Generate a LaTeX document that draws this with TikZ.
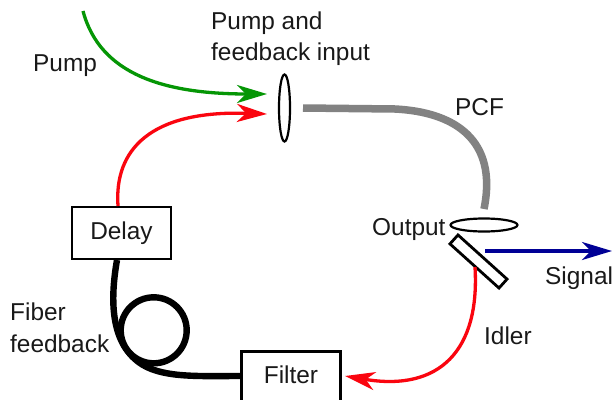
\documentclass[tikz,border=0pt]{standalone}
\usepackage{fontspec}
\setmainfont{Liberation Sans}
\usetikzlibrary{arrows.meta,shapes.geometric}
\definecolor{pumpgreen}{RGB}{5,150,5}
\definecolor{fbred}{RGB}{250,5,15}
\definecolor{sigblue}{RGB}{0,0,150}
\definecolor{fibgray}{RGB}{130,130,130}
\tikzset{
  lbl/.style={inner sep=0pt,font=\fontsize{24.4}{33}\selectfont,text=black!90},
  blockbox/.style={draw=black,line width=2.8pt,fill=white,minimum width=99pt,inner sep=0pt,font=\fontsize{24.4}{30}\selectfont,text=black!90},
  lens/.style={draw=black,line width=2.2pt,ellipse,fill=white,inner sep=0pt},
  beam/.style={line width=3.3pt,-{Stealth[length=30pt,width=18pt,inset=9pt]}},
  greyfib/.style={draw=fibgray,line width=7.5pt},
  blackfib/.style={draw=black,line width=6.4pt},
}
\begin{document}
\begin{tikzpicture}[x=1pt,y=-1pt]
\useasboundingbox (0,0) rectangle (612,399);
\clip (0,0) rectangle (612,399);
\fill[white] (0,0) rectangle (612,399);
% components
\node[blockbox,minimum height=52pt] (delay) at (121.5,233) {Delay};
\node[blockbox,anchor=north,minimum height=62pt,text depth=0pt] (filter) at (291,350) {};
\node[lbl] (filtertext) at (291,375) {Filter};
\node[lens,minimum width=11pt,minimum height=67pt] (inlens) at (284.5,108) {};
\node[lens,minimum width=67pt,minimum height=13pt] (outlens) at (484,225) {};
\node[draw=black,line width=2.8pt,fill=white,minimum width=66pt,minimum height=12pt,inner sep=0pt,rotate=-42] (mirror) at (478.5,261.5) {};
% free ends
\coordinate (pumpstart) at (83,11);
\coordinate (pumptip) at (267,94);
\coordinate (fbtip) at (267,114);
\coordinate (fbstart) at (118,206);
\coordinate (pcfstart) at (303,108);
\coordinate (pcfend) at (484,209);
\coordinate (sigstart) at (485,251);
\coordinate (sigtip) at (612,251);
\coordinate (idstart) at (475,267);
\coordinate (idtip) at (345,376);
% beams
\draw[beam,pumpgreen] (pumpstart) .. controls (100,75) and (165,94) .. (pumptip);
\draw[beam,fbred] (fbstart) .. controls (114,150) and (150,110) .. (fbtip);
\draw[greyfib] (pcfstart) -- (395,109) .. controls (455,112) and (498,140) .. (pcfend);
\draw[beam,sigblue] (sigstart) -- (sigtip);
\draw[beam,fbred] (idstart) .. controls (480,350) and (440,392) .. (idtip);
% fibre
\draw[blackfib] (153.7,330.3) circle[radius=33];
\draw[blackfib] (117,260) .. controls (110,300) and (110,345) .. (143,365) .. controls (165,378) and (200,376) .. (241,376);
% labels
\node[lbl,anchor=base west] (pumplabel) at (33,71) {Pump};
\node[lbl,anchor=base west] (input1) at (211,29) {Pump and};
\node[lbl,anchor=base west] (input2) at (211,60) {feedback input};
\node[lbl,anchor=base west] (pcflabel) at (455,115) {PCF};
\node[lbl,anchor=base west] (outputlabel) at (372,235) {Output};
\node[lbl,anchor=base west] (signallabel) at (545,284) {Signal};
\node[lbl,anchor=base west] (idlerlabel) at (484,344) {Idler};
\node[lbl,anchor=base west] (fiber1) at (10,320) {Fiber};
\node[lbl,anchor=base west] (fiber2) at (10,352) {feedback};
\end{tikzpicture}
\end{document}
